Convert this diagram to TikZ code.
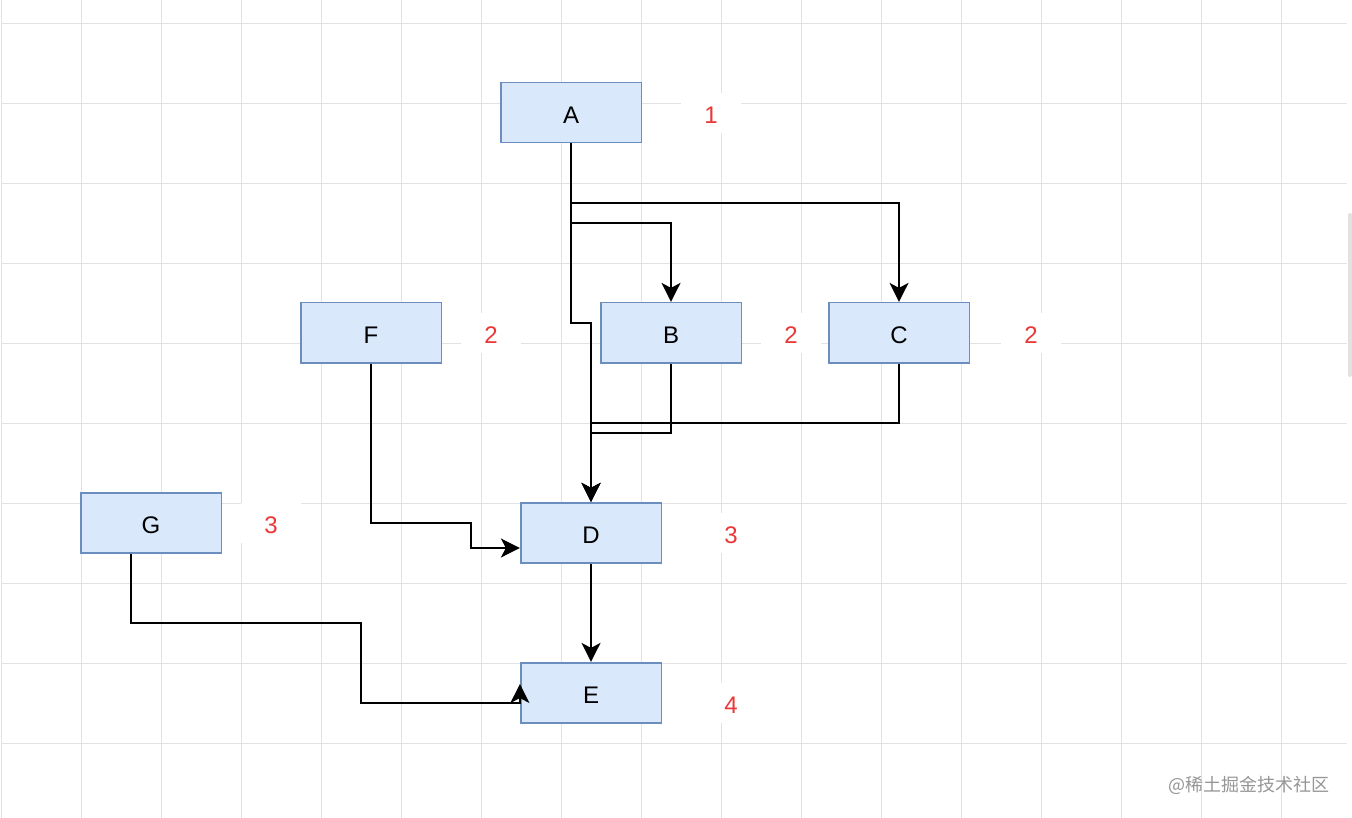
\documentclass[tikz,border=0pt]{standalone}
\usepackage{fontspec}
\setmainfont{Liberation Sans}
\newfontfamily\cjk{Noto Sans CJK SC}
\usetikzlibrary{arrows.meta}
\definecolor{boxfill}{HTML}{DAE8FC}
\definecolor{boxline}{HTML}{6C8EBF}
\definecolor{lblred}{RGB}{235,55,55}
\definecolor{gridc}{RGB}{226,226,226}
\definecolor{wm}{RGB}{150,150,150}
\tikzset{
  box/.style={draw=boxline, fill=boxfill, line width=1.6pt, minimum width=140.6pt, minimum height=60pt, inner sep=0pt, text height=21pt, text depth=0pt, font=\fontsize{24}{24}\selectfont},
  lbl/.style={fill=white, text=lblred, minimum width=60pt, minimum height=40pt, inner sep=0pt, text height=21pt, text depth=0pt, font=\fontsize{24}{24}\selectfont},
  conn/.style={draw=black, line width=1.8pt, -{Stealth[length=19pt, width=19pt, inset=5pt]}},
}
\begin{document}
\begin{tikzpicture}[x=1pt, y=-1pt]
\useasboundingbox (0,0) rectangle (1352,818);
\fill[white] (0,0) rectangle (1352,818);
% grid
\foreach \k in {0,...,16} {\draw[gridc, line width=1pt] (1.5+80*\k,0) -- (1.5+80*\k,818);}
\foreach \k in {0,...,9} {\draw[gridc, line width=1pt] (1.5,23.3+80*\k) -- (1347,23.3+80*\k);}
% scrollbar
\fill[gridc, rounded corners=2pt] (1348,213) rectangle (1352,377);
% labels
\node[lbl] (lA) at (711,113) {1};
\node[lbl] (lF) at (491,333) {2};
\node[lbl] (lB) at (791,333) {2};
\node[lbl] (lC) at (1031,333) {2};
\node[lbl] (lG) at (271,523) {3};
\node[lbl] (lD) at (731,533) {3};
\node[lbl] (lE) at (731,703) {4};
% boxes
\node[box] (A) at (571,112.7) {A};
\node[box] (B) at (671,332.7) {B};
\node[box] (C) at (899,332.7) {C};
\node[box] (F) at (371,332.7) {F};
\node[box] (D) at (591,532.7) {D};
\node[box] (E) at (591,692.7) {E};
\node[box] (G) at (151,522.7) {G};
% connectors
\draw[conn] (A.south) |- (671,223.3) -- (B.north);
\draw[conn] (A.south) |- (899,203.3) -- (C.north);
\draw[conn] (A.south) |- (591,322.7) -- (D.north);
\draw[conn] (B.south) |- (591,432.7) -- (D.north);
\draw[conn] (C.south) |- (591,422.7) -- (D.north);
\draw[conn] (F.south) |- (470.7,522.7) |- ([yshift=-15.3pt]D.west);
\draw[conn] (D.south) -- (E.north);
\draw[conn] ([xshift=-20pt]G.south) |- (360.7,623.3) |- ([yshift=-10pt]E.west) -- ([yshift=8.7pt]E.west);
% watermark
\node[text=wm, font=\cjk\fontsize{18}{18}\selectfont, anchor=east, inner sep=0pt] (wmk) at (1330,785) {@稀土掘金技术社区};
\end{tikzpicture}
\end{document}
